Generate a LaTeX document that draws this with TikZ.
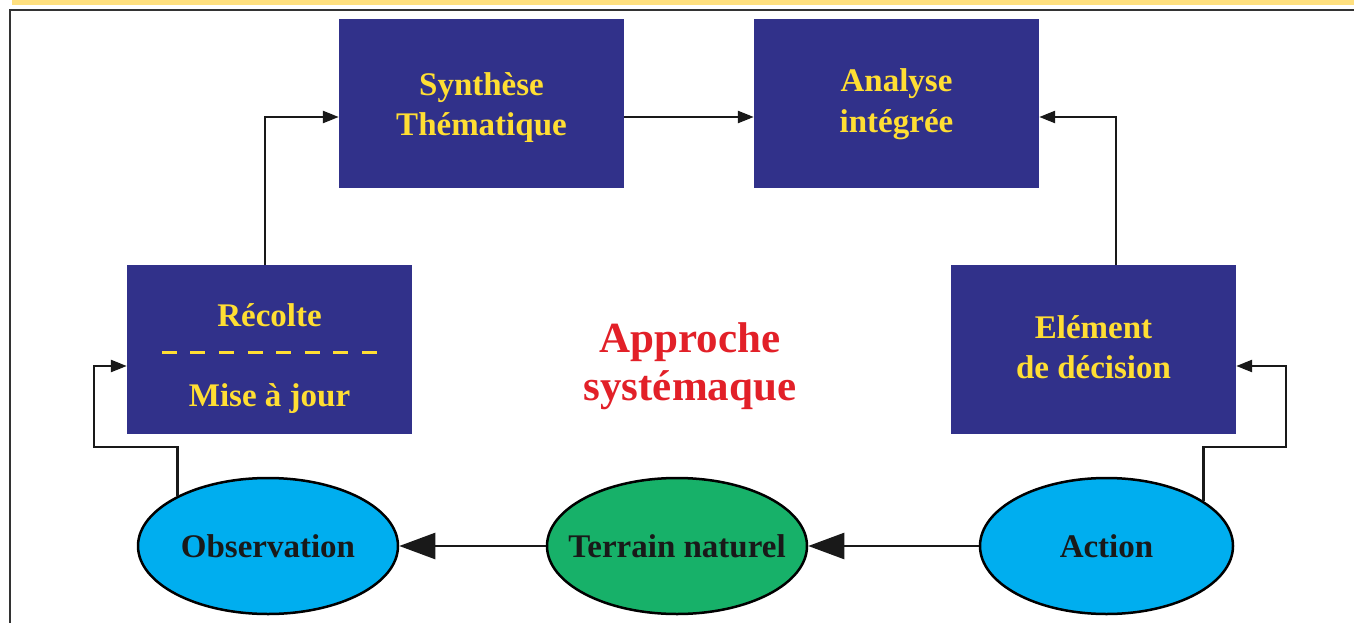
\documentclass[tikz,border=0pt]{standalone}
\usepackage{fontspec}
\setmainfont{Liberation Serif}
\usetikzlibrary{shapes.geometric,arrows.meta,positioning}
\definecolor{boxblue}{HTML}{31318A}
\definecolor{txtyellow}{HTML}{FFDE33}
\definecolor{obscyan}{HTML}{00AEEF}
\definecolor{terrgreen}{HTML}{17B169}
\definecolor{titlered}{HTML}{E22028}
\definecolor{stripyellow}{HTML}{FFE07F}
\tikzstyle{blk}=[rectangle,fill=boxblue,minimum width=285pt,minimum height=169pt,inner sep=0pt,text=txtyellow,align=center,text height=65pt,text depth=8pt,font=\fontsize{33}{40}\selectfont\bfseries]
\tikzstyle{blktxt}=[text=txtyellow,anchor=base,font=\fontsize{33}{40}\selectfont\bfseries]
\tikzstyle{ell}=[ellipse,draw,line width=2.5pt,minimum width=260pt,minimum height=136pt,inner xsep=-30pt,inner ysep=0pt,font=\fontsize{33}{40}\selectfont\bfseries,text=black!90]
\tikzstyle{arr}=[-{Triangle[length=16pt,width=12pt]},line width=2.5pt,black!90]
\tikzstyle{bigarr}=[-{Triangle[length=36pt,width=26pt]},line width=2.5pt,black!90]

\begin{document}
\begin{tikzpicture}[x=1pt,y=-1pt]
\useasboundingbox (0,0) rectangle (1354,623);
% frame
\fill[stripyellow] (12,0) rectangle (1354,5);
\draw[line width=2pt,black!80] (10,623) -- (10,10) -- (1354,10);
% boxes
\node[blk,text height=72pt] (syn) at (481.5,103.5) {Synthèse\\Thématique};
\node[blk] (ana) at (896.5,103.5) {Analyse\\intégrée};
\node[blk] (rec) at (269.5,349.5) {};
\node[blktxt] (recA) at (269.5,326) {Récolte};
\node[blktxt] (recB) at (269.5,406.5) {Mise à jour};
\draw[txtyellow,line width=3pt,dash pattern=on 15pt off 13.6pt] ([xshift=35pt,yshift=-2.5pt]rec.west) -- ([xshift=-35pt,yshift=-2.5pt]rec.east);
\node[blk] (ele) at (1093.5,349.5) {Elément\\de décision};
% ellipses
\node[ell,fill=obscyan] (obs) at (268,546) {Observation};
\node[ell,fill=terrgreen] (ter) at (677,546) {Terrain naturel};
\node[ell,fill=obscyan,minimum width=253pt] (act) at (1106.5,546) {Action};
\node[text=titlered,align=center,text height=60pt,text depth=0pt,font=\fontsize{43}{48}\selectfont\bfseries] (tit) at (690,370.7) {Approche\\systémaque};
% connectors
\coordinate (obsbend) at (94,447);
\coordinate (actbend) at (1286,447);
\draw[arr] ([xshift=-4.5pt]rec.north) |- ([yshift=-13.5pt]syn.west);
\draw[arr] ([yshift=-13.5pt]syn.east) -- ([yshift=-13.5pt]ana.west);
\draw[arr] ([xshift=22.5pt]ele.north) |- ([yshift=-13.5pt]ana.east);
\draw[arr] (obs.151.7) |- (obsbend) |- ([yshift=-16.5pt]rec.west);
\draw[arr] (act.25) |- (actbend) |- ([yshift=-16.5pt]ele.east);
\draw[bigarr] (ter) -- (obs);
\draw[bigarr] (act) -- (ter);
\end{tikzpicture}
\end{document}
